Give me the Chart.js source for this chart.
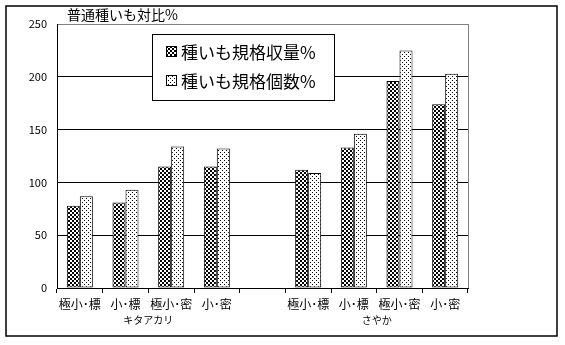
<!DOCTYPE html>
<html lang="ja">
<head>
<meta charset="utf-8">
<title>普通種いも対比%</title>
<script src="https://cdn.jsdelivr.net/npm/chart.js@4"></script>
<style>
  html, body { margin: 0; padding: 0; background: #fff; }
  #chart { display: block; }
</style>
</head>
<body>
<canvas id="chart" width="565" height="345"></canvas>
<script>
// data
const categories = ['極小･標', '小･標', '極小･密', '小･密', '', '極小･標', '小･標', '極小･密', '小･密'];
const yieldPct = [78, 81, 115, 115, null, 112, 133, 196, 174];   // 種いも規格収量%
const countPct = [87, 93, 134, 132, null, 109, 146, 225, 203];   // 種いも規格個数%
const seriesNames = ['種いも規格収量%', '種いも規格個数%'];
const varieties = [
  { name: 'キタアカリ', from: 0, to: 3 },
  { name: 'さやか', from: 5, to: 8 }
];
const yTicks = [0, 50, 100, 150, 200, 250];
const chartTitle = '普通種いも対比%';

const FONT = '"Noto Sans CJK JP", "Noto Sans", sans-serif';

// hatch patterns like the old Excel fills
function makePattern(draw) {
  const c = document.createElement('canvas');
  c.width = 4; c.height = 4;
  const g = c.getContext('2d');
  g.fillStyle = '#fff';
  g.fillRect(0, 0, 4, 4);
  g.fillStyle = '#000';
  draw(g);
  return g.createPattern(c, 'repeat');
}
const checker = makePattern(g => { g.fillRect(0, 0, 2, 2); g.fillRect(2, 2, 2, 2); });
const dots = makePattern(g => { g.fillRect(0, 0, 1, 1); g.fillRect(2, 2, 1, 1); });

// frame, plot border, title, group labels and the boxed legend
const decorations = {
  id: 'decorations',
  beforeDraw(chart) {
    const ctx = chart.ctx;
    ctx.save();
    ctx.fillStyle = '#fff';
    ctx.fillRect(0, 0, chart.width, chart.height);
    ctx.restore();
  },
  afterDraw(chart) {
    const ctx = chart.ctx;
    const area = chart.chartArea;
    const x = chart.scales.x;
    ctx.save();

    // outer frame
    ctx.strokeStyle = '#000';
    ctx.lineWidth = 1.5;
    ctx.strokeRect(6, 6, 551, 330);

    // right side of plot area (grey)
    ctx.strokeStyle = '#808080';
    ctx.lineWidth = 1;
    ctx.beginPath();
    ctx.moveTo(Math.round(area.right) + 0.5, area.top);
    ctx.lineTo(Math.round(area.right) + 0.5, area.bottom);
    ctx.stroke();

    // title
    ctx.fillStyle = '#000';
    ctx.font = '14px ' + FONT;
    ctx.textAlign = 'left';
    ctx.textBaseline = 'middle';
    ctx.fillText(chartTitle, 67, 15);

    // variety labels under the category labels
    ctx.font = '10px ' + FONT;
    ctx.textAlign = 'center';
    varieties.forEach(v => {
      const cx = (x.getPixelForValue(v.from) + x.getPixelForValue(v.to)) / 2;
      ctx.fillText(v.name, cx, 320);
    });

    // legend box
    const lx = 152, ly = 34, lw = 182, lh = 66;
    ctx.fillStyle = '#fff';
    ctx.fillRect(lx, ly, lw, lh);
    ctx.strokeStyle = '#000';
    ctx.lineWidth = 1;
    ctx.strokeRect(lx + 0.5, ly + 0.5, lw, lh);
    ctx.font = '17px ' + FONT;
    ctx.textAlign = 'left';
    chart.data.datasets.forEach((ds, i) => {
      const cy = 52 + i * 29;
      ctx.fillStyle = ds.backgroundColor;
      ctx.fillRect(167, cy - 5, 9, 9);
      ctx.strokeRect(166.5, cy - 5.5, 10, 10);
      ctx.fillStyle = '#000';
      ctx.fillText(ds.label, 181, cy + 1);
    });
    ctx.restore();
  }
};

new Chart(document.getElementById('chart'), {
  type: 'bar',
  data: {
    labels: categories,
    datasets: [
      {
        label: seriesNames[0],
        data: yieldPct,
        backgroundColor: checker,
        borderColor: '#000',
        borderWidth: 1,
        borderSkipped: false
      },
      {
        label: seriesNames[1],
        data: countPct,
        backgroundColor: dots,
        borderColor: '#000',
        borderWidth: 1,
        borderSkipped: false
      }
    ]
  },
  options: {
    responsive: false,
    animation: false,
    devicePixelRatio: 1,
    categoryPercentage: 0.57,
    barPercentage: 1.0,
    layout: { padding: { top: 24, right: 97, left: 0, bottom: 0 } },
    plugins: {
      legend: { display: false },
      tooltip: { enabled: false },
      title: { display: false }
    },
    scales: {
      x: {
        offset: true,
        grid: {
          offset: true,
          drawOnChartArea: false,
          color: '#000',
          tickLength: 5
        },
        border: { color: '#000', width: 1 },
        ticks: {
          color: '#000',
          font: { family: FONT, size: 12 },
          padding: 4,
          maxRotation: 0,
          autoSkip: false
        },
        afterFit(scale) { scale.height = 57; }
      },
      y: {
        min: 0,
        max: 250,
        afterBuildTicks(scale) { scale.ticks = yTicks.map(v => ({ value: v })); },
        grid: {
          color: ctx => (ctx.tick && ctx.tick.value === 250 ? '#808080' : '#000'),
          drawTicks: false
        },
        border: { color: '#000', width: 1 },
        ticks: {
          color: '#000',
          font: { family: FONT, size: 11 },
          padding: 10
        },
        afterFit(scale) { scale.width = 57; }
      }
    }
  },
  plugins: [decorations]
});
</script>
</body>
</html>
